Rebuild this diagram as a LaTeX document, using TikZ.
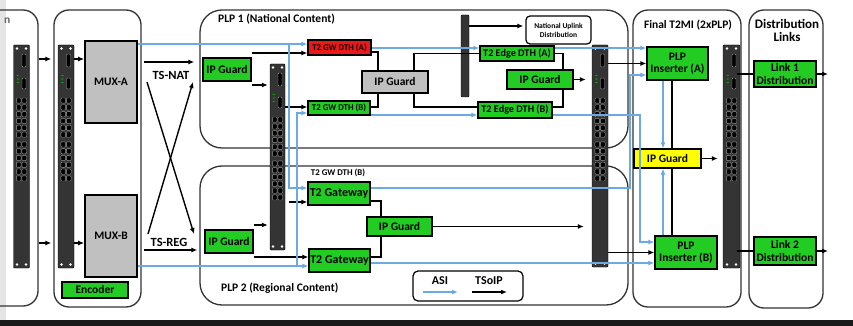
\documentclass[tikz,border=0pt]{standalone}
\usepackage{fontspec}
\setmainfont{Carlito}
\usetikzlibrary{arrows.meta}

\definecolor{boxgreen}{RGB}{34,204,34}
\definecolor{boxred}{RGB}{236,24,24}
\definecolor{boxgray}{RGB}{192,192,192}
\definecolor{boxyellow}{RGB}{255,255,0}
\definecolor{asiblue}{RGB}{108,170,228}
\definecolor{rackgray}{RGB}{52,52,52}

\tikzset{
  >={Latex[length=6pt,width=5pt]},
  container/.style={draw=black!80, line width=1.3pt, rounded corners=15pt, inner sep=0pt},
  grouptitle/.style={inner sep=0pt, font=\bfseries\fontsize{11.5}{12}\selectfont},
  devbox/.style={draw=black, line width=1.2pt, inner sep=0pt, align=center, font=\bfseries\fontsize{11.5}{12.5}\selectfont},
  greenbox/.style={devbox, fill=boxgreen},
  muxbox/.style={devbox, fill=boxgray, line width=1.6pt},
  rackswitch/.style={draw=black, fill=rackgray, minimum width=16pt, inner sep=0pt, rounded corners=1pt,
    path picture={
      \coordinate (rk) at (path picture bounding box.north);
      \coordinate (rkb) at (path picture bounding box.south);
      \foreach \s in {-1,1}{
        \fill[white] ([xshift=\s*4.5pt,yshift=-3.5pt]rk) circle (1.3pt);
        \fill[white] ([xshift=\s*4.5pt,yshift=3.5pt]rkb) circle (1.3pt);
      }
      \filldraw[draw=black!40, fill=black] ([xshift=0.5pt,yshift=-9pt]rk) rectangle ([xshift=4.5pt,yshift=-22pt]rk);
      \filldraw[draw=black!40, fill=black] ([xshift=0.5pt,yshift=-33pt]rk) rectangle ([xshift=4.5pt,yshift=-44pt]rk);
      \foreach \k in {0,1,2}
        \fill[green!70!black] ([xshift=-5pt,yshift=-(30+3.5*\k)*1pt]rk) rectangle ++(2.5pt,-1.2pt);
      \foreach \r in {0,...,11}
        \foreach \c in {-5.2,0.4}
          \filldraw[draw=black!40, fill=black] ([xshift=\c*1pt,yshift=-(53+6.8*\r+3*int(\r/6))*1pt]rk) rectangle ++(4.8pt,-5.2pt);
    }},
  thinswitch/.style={draw=black, fill=rackgray, minimum width=8pt, inner sep=0pt, rounded corners=1pt},
  tslabel/.style={inner sep=0pt, font=\bfseries\fontsize{12.5}{13}\selectfont},
  tsoip/.style={->, draw=black, line width=1.4pt},
  asi/.style={->, draw=asiblue, line width=1.9pt},
  tieline/.style={draw=black, line width=1.4pt},
}

\begin{document}
\begin{tikzpicture}[x=1pt,y=-1pt]
  \useasboundingbox (0,0) rectangle (853,326);
  \clip (0,0) rectangle (853,326);
  \fill[white] (0,0) rectangle (853,326);
  \fill[black!10] (0,0) rectangle (6,326); % window edge
  \fill[black!90] (0,320) rectangle (853,326);

  % rows and columns the connectors run along
  \coordinate (rowa) at (0,59);
  \coordinate (rowb) at (0,243);
  \coordinate (natrow) at (0,62);
  \coordinate (regrow) at (0,250);
  \coordinate (gwarow) at (0,53);
  \coordinate (gwaout) at (0,52);
  \coordinate (ipgswa) at (0,85);
  \coordinate (gwbrow) at (0,107);
  \coordinate (ipgswb) at (0,225);
  \coordinate (gwlrow) at (0,257);
  \coordinate (gwurow) at (0,202);
  \coordinate (gwuout) at (0,201);
  \coordinate (uplrow) at (0,26);
  \coordinate (asia) at (0,44);
  \coordinate (asitop) at (0,48);
  \coordinate (asigwb) at (0,113);
  \coordinate (asimid) at (0,115);
  \coordinate (asigwu) at (0,188);
  \coordinate (asilow) at (0,266);
  \coordinate (asilowout) at (0,263);
  \coordinate (asiinsa) at (0,75);
  \coordinate (asiinsb) at (0,242);
  \coordinate (colgl) at (378,0);
  \coordinate (colgr) at (414,0);
  \coordinate (colel) at (563,0);
  \coordinate (colgw) at (381,0);
  \coordinate (colfin) at (672,0);
  \coordinate (colasi) at (663,0);
  \coordinate (colra) at (630,0);
  \coordinate (colrb) at (640,0);
  \coordinate (brA) at (289,44);
  \coordinate (brB) at (297,266);

  % outer groups
  \node[container, minimum width=80pt, minimum height=296pt] (srcbox) at (-2,158) {};
  \node[container, minimum width=87pt, minimum height=297pt] (encbox) at (97.5,158.5) {};
  \node[container, rounded corners=22pt, minimum width=428pt, minimum height=138pt] (plp1) at (414,79) {};
  \node[container, rounded corners=22pt, minimum width=428pt, minimum height=139pt] (plp2) at (414,235.5) {};
  \node[container, minimum width=108pt, minimum height=297pt] (t2mi) at (687,158.5) {};
  \node[container, minimum width=74pt, minimum height=298pt] (distbox) at (786,159) {};

  \node[grouptitle, anchor=west, text=black!60] (srctitle) at (4,21) {n};
  \node[grouptitle, anchor=west] (plp1title) at (218,19) {PLP 1 (National Content)};
  \node[grouptitle, anchor=west] (plp2title) at (221,288) {PLP 2 (Regional Content)};
  \node[grouptitle] (t2mititle) at (688,25) {Final T2MI (2xPLP)};
  \node[grouptitle, font=\bfseries\fontsize{13}{13}\selectfont, align=center] (disttitle) at (787,30.5) {Distribution\\Links};

  % switches
  \node[rackswitch, minimum height=223pt] (sw0) at (21.5,156.5) {};
  \node[rackswitch, minimum height=223pt] (sw1) at (66,156.5) {};
  \node[rackswitch, minimum width=15pt, minimum height=186pt] (sw2) at (277.5,157) {};
  \node[thinswitch, minimum height=82pt] (sw3) at (465,56) {};
  \node[rackswitch, minimum height=222pt] (sw4) at (600,156) {};
  \node[rackswitch, minimum width=17pt, minimum height=223pt] (sw5) at (731.5,156.5) {};

  % encoder
  \node[muxbox, minimum width=52pt, minimum height=82pt] (muxa) at (111,82) {MUX-A};
  \node[muxbox, minimum width=52pt, minimum height=82pt] (muxb) at (111,236) {MUX-B};
  \node[greenbox, minimum width=66pt, minimum height=16pt] (encoder) at (95,290) {Encoder};

  % PLP 1
  \node[greenbox, minimum width=48pt, minimum height=23pt] (ipg1) at (227,69.5) {IP Guard};
  \node[devbox, fill=boxred, minimum width=63pt, minimum height=15pt, font=\bfseries\fontsize{8.8}{9}\selectfont] (gwa) at (339.5,47.5) {T2 GW DTH (A)};
  \node[greenbox, minimum width=62pt, minimum height=14pt, font=\bfseries\fontsize{8.8}{9}\selectfont] (gwb) at (339,108) {T2 GW DTH (B)};
  \node[devbox, fill=boxgray, minimum width=66pt, minimum height=22pt] (ipgmid) at (395,82) {IP Guard};
  \node[greenbox, minimum width=74pt, minimum height=15pt, font=\bfseries\fontsize{10.2}{10.5}\selectfont] (edgea) at (517,53.5) {T2 Edge DTH (A)};
  \node[greenbox, minimum width=74pt, minimum height=16pt, font=\bfseries\fontsize{10.2}{10.5}\selectfont] (edgeb) at (515,110) {T2 Edge DTH (B)};
  \node[greenbox, minimum width=66pt, minimum height=19pt] (ipgr) at (540,79.5) {IP Guard};
  \node[devbox, fill=white, rounded corners=4pt, minimum width=65pt, minimum height=28pt, font=\bfseries\fontsize{7.5}{9}\selectfont] (uplink) at (558.5,30) {National Uplink\\Distribution};

  % PLP 2
  \node[greenbox, minimum width=48pt, minimum height=23pt] (ipg2) at (229,241.5) {IP Guard};
  \node[greenbox, minimum width=62pt, minimum height=23pt, font=\bfseries\fontsize{12}{12.5}\selectfont] (gwu) at (339,193.5) {T2 Gateway};
  \node[greenbox, minimum width=61pt, minimum height=23pt, font=\bfseries\fontsize{12}{12.5}\selectfont] (gwl) at (339.5,260.5) {T2 Gateway};
  \node[greenbox, minimum width=65pt, minimum height=19pt] (ipg3) at (399.5,226.5) {IP Guard};
  \node[inner sep=0pt, font=\bfseries\fontsize{8.8}{9}\selectfont] (gwulbl) at (338,173) {T2 GW DTH (B)};
  \node[devbox, fill=white, rounded corners=5pt, minimum width=110pt, minimum height=30pt] (legend) at (468,286) {};
  \node[tslabel, font=\bfseries\fontsize{12}{12}\selectfont] (asilbl) at (440,281) {ASI};
  \node[tslabel, font=\bfseries\fontsize{12}{12}\selectfont] (tsoiplbl) at (489,281) {TSoIP};
  \coordinate (lga1) at (423,292);
  \coordinate (lga2) at (458,292);
  \coordinate (lgt1) at (472,292);
  \coordinate (lgt2) at (507,292);

  % final T2MI and distribution
  \node[greenbox, minimum width=61pt, minimum height=33pt] (insa) at (677.5,63.5) {PLP\\Inserter (A)};
  \node[greenbox, minimum width=62pt, minimum height=33pt] (insb) at (686,252.5) {PLP\\Inserter (B)};
  \node[devbox, fill=boxyellow, minimum width=67pt, minimum height=19pt] (ipgy) at (667.5,158.5) {IP Guard};
  \node[greenbox, minimum width=62pt, minimum height=26pt] (link1) at (785,74) {Link 1\\Distribution};
  \node[greenbox, minimum width=62pt, minimum height=28pt] (link2) at (785,251) {Link 2\\Distribution};
  \coordinate (out1) at (828,74);
  \coordinate (out2) at (828,251);

  % TSoIP
  \draw[tsoip, shorten >=2pt] (srcbox.east |- rowa) -- (encbox.west |- rowa);
  \draw[tsoip, shorten >=2pt] (srcbox.east |- rowb) -- (encbox.west |- rowb);
  \draw[tsoip] (sw1.east |- rowa) -- (muxa.west |- rowa);
  \draw[tsoip] (sw1.east |- rowb) -- (muxb.west |- rowb);
  \draw[tsoip, shorten <=6pt, shorten >=5pt] (muxa.east |- natrow) -- (plp1.west |- natrow);
  \draw[tsoip, shorten <=6pt, shorten >=2pt] (muxb.east |- regrow) -- (plp2.west |- regrow);
  \coordinate (xa1) at (147,82);
  \coordinate (xa2) at (194,234);
  \coordinate (xb1) at (148,234);
  \coordinate (xb2) at (193,82);
  \draw[tsoip] (xa1) -- (xa2);
  \draw[tsoip] (xb1) -- (xb2);
  \node[tslabel] (natlbl) at (171,75) {TS-NAT};
  \node[tslabel] (reglbl) at (169,242) {TS-REG};

  \draw[tsoip] (ipg1.east |- gwarow) -- (gwa.west |- gwarow);
  \draw[tsoip, shorten >=2pt] (ipg1.east |- ipgswa) -- (sw2.west |- ipgswa);
  \draw[tsoip] (sw2.east |- gwbrow) -- (gwb.west |- gwbrow);
  \draw[tieline] (gwa.east |- gwaout) -| (ipgmid.north -| colgl);
  \draw[tieline] (gwb.east |- gwbrow) -| (ipgmid.south -| colgl);
  \draw[tieline] (ipgmid.north -| colgr) |- (edgea.west);
  \draw[tieline] (ipgmid.south -| colgr) |- (edgeb.west |- gwbrow);
  \draw[tieline] (edgea.east) -| (ipgr.north -| colel);
  \draw[tieline] (edgeb.east |- gwbrow) -| (ipgr.south -| colel);
  \draw[tsoip, shorten >=6pt] (ipgr.east) -- (ipgr.east -| sw4.west);
  \draw[tsoip, shorten >=2pt] (sw3.east |- uplrow) -- (uplink.west |- uplrow);

  \draw[tsoip, shorten >=2pt] (ipg2.east |- ipgswb) -- (sw2.west |- ipgswb);
  \draw[tsoip] (ipg2.east |- gwlrow) -- (gwl.west |- gwlrow);
  \draw[tsoip, shorten <=4pt] (sw2.east |- gwurow) -- (gwu.west |- gwurow);
  \draw[tieline] (gwu.east |- gwuout) -| (ipg3.north -| colgw);
  \draw[tieline] (gwl.east |- gwlrow) -| (ipg3.south -| colgw);
  \draw[tsoip, shorten >=8pt] (ipg3.east) -- (ipg3.east -| sw4.west);

  \draw[tsoip] (sw4.east |- insa.west) -- (insa.west);
  \draw[tsoip] (sw4.east |- insb.west) -- (insb.west);
  \draw[tieline] (insa.south -| colfin) -- (ipgy.north -| colfin);
  \draw[tieline] (ipgy.south -| colfin) -- (insb.north -| colfin);
  \draw[tsoip, shorten >=5pt] (ipgy.east) -- (ipgy.east -| sw5.west);
  \draw[tieline, shorten <=-3pt] (sw5.east |- link1.west) -- (link1.west);
  \draw[tieline, shorten <=-3pt] (sw5.east |- link2.west) -- (link2.west);
  \draw[tsoip] (link1.east) -- (out1);
  \draw[tsoip] (link2.east) -- (out2);

  % ASI
  \draw[asi] (muxa.east |- brA) -- (gwa.west |- brA);
  \draw[asi] (brA) |- (gwu.west |- asigwu);
  \draw[asi] (muxb.east |- brB) -- (gwl.west |- brB);
  \draw[asi] (brB) |- (gwb.west |- asigwb);
  \draw[asi] (gwa.east |- asitop) -- (edgea.west |- asitop);
  \draw[asi] (edgea.east |- asitop) -- (insa.west |- asitop);
  \draw[asi] (gwb.east |- asimid) -- (edgeb.west |- asimid);
  \draw[asi] (edgeb.east |- asimid) -| (colrb |- insb.north) |- (insb.west |- asiinsb);
  \draw[asi] (gwu.east |- asigwu) -| (colra |- insa.south) |- (insa.west |- asiinsa);
  \draw[asi] (gwl.east |- asilowout) -- (insb.west |- asilowout);
  \draw[asi] (insa.south -| colasi) -- (ipgy.north -| colasi);
  \draw[asi] (insb.north -| colasi) -- (ipgy.south -| colasi);

  % legend arrows
  \draw[asi] (lga1) -- (lga2);
  \draw[tsoip] (lgt1) -- (lgt2);
\end{tikzpicture}
\end{document}
